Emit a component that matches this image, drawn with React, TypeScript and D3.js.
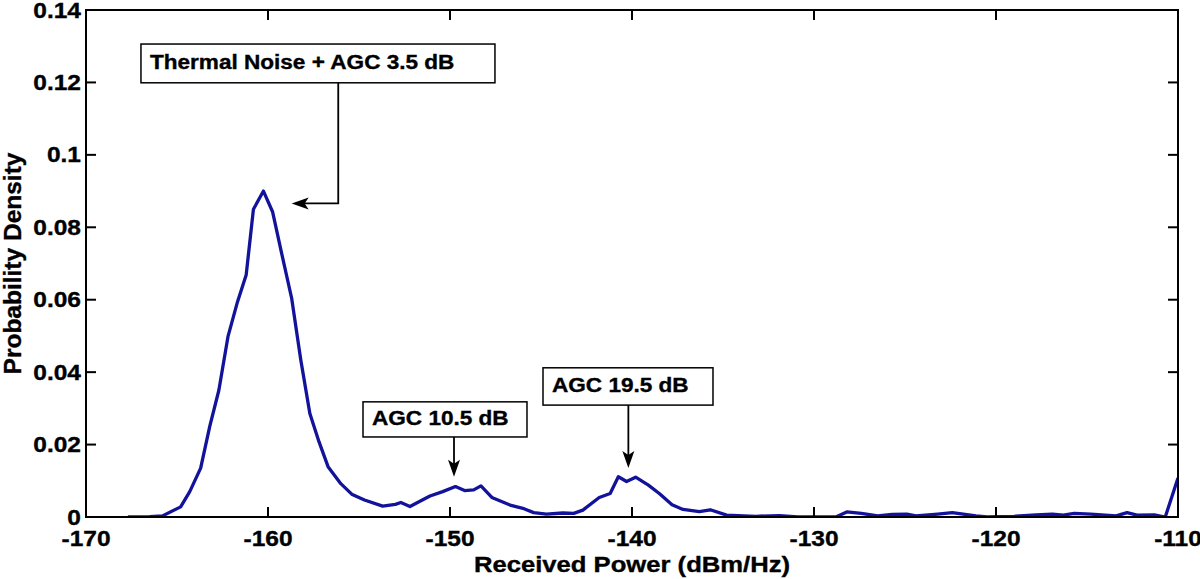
import * as d3 from 'd3';
import React, { useRef, useEffect } from 'react';

// received power (dBm/Hz) and estimated probability density
const powerDbm = [
  -167.7, -166.5, -165.8, -164.8, -164.3, -163.7, -163.2, -162.7, -162.2, -161.7,
  -161.2, -160.8, -160.25, -159.75, -159.25, -158.7, -158.2, -157.7, -157.2, -156.7,
  -156.0, -155.4, -154.7, -153.7, -153.0, -152.7, -152.2, -151.6, -151.1, -150.4,
  -149.7, -149.2, -148.7, -148.3, -147.7, -146.7, -146.0, -145.4, -144.7, -143.8,
  -143.2, -142.7, -141.8, -141.2, -140.75, -140.3, -139.8, -139.1, -138.5, -137.8,
  -137.2, -136.3, -135.7, -134.8, -133.2, -131.9, -130.9, -128.8, -128.2, -127.4,
  -126.5, -125.7, -124.9, -124.4, -123.2, -122.4, -121.1, -120.5, -119.0, -117.8,
  -116.9, -116.3, -115.7, -114.8, -113.4, -112.8, -112.25, -111.3, -110.7, -110.0
];
const density = [
  0, 0.0001, 0.0003, 0.0028, 0.007, 0.0135, 0.025, 0.035, 0.0498, 0.059,
  0.0668, 0.085, 0.09, 0.0843, 0.0728, 0.0604, 0.0434, 0.0286, 0.0208, 0.0139,
  0.0092, 0.0063, 0.0047, 0.003, 0.0035, 0.004, 0.0029, 0.0045, 0.0058, 0.007,
  0.0084, 0.0073, 0.0075, 0.0086, 0.0054, 0.0033, 0.0024, 0.0012, 0.0008, 0.0011,
  0.001, 0.0019, 0.0054, 0.0065, 0.0111, 0.0098, 0.011, 0.0088, 0.0065, 0.0034,
  0.0021, 0.0015, 0.002, 0.0005, 0.0002, 0.0004, 0, 0, 0.0014, 0.001,
  0.0003, 0.0007, 0.0008, 0.0003, 0.0008, 0.0012, 0.0003, 0, 0.0002, 0.0006,
  0.0008, 0.0005, 0.001, 0.0008, 0.0003, 0.0012, 0.0005, 0.0006, 0, 0.0108
];

const xTicks = [-170, -160, -150, -140, -130, -120, -110];
const yTicks = [0, 0.02, 0.04, 0.06, 0.08, 0.1, 0.12, 0.14];
const yTickLabels = ['0', '0.02', '0.04', '0.06', '0.08', '0.1', '0.12', '0.14'];

// text-box annotations (data coords)
const noteLabels = ['Thermal Noise + AGC 3.5 dB', 'AGC 10.5 dB', 'AGC 19.5 dB'];
const noteBoxX0 = [-166.98, -154.78, -144.89];
const noteBoxX1 = [-147.53, -145.77, -135.55];
const noteBoxYTop = [0.1306, 0.0318, 0.0412];
const noteBoxYBot = [0.1199, 0.0221, 0.0309];
const noteStemX = [-156.14, -149.78, -140.2];
const noteTipX = [-158.7, -149.78, -140.2];
const noteTipY = [0.0866, 0.0111, 0.0135];

function App() {
  const ref = useRef(null);
  const width = 1200;
  const height = 579;

  useEffect(() => {
    draw();
  }, []);

  const draw = () => {
    const margin = { left: 86, right: 22, top: 10, bottom: 62 };
    const font = "'Liberation Sans', Arial, Helvetica, sans-serif";
    const stretch = 1.14;
    const lineColor = '#12129a';

    const svg = d3.select(ref.current);
    svg.selectAll('*').remove();

    const x = d3.scaleLinear()
      .domain([-170, -110])
      .range([margin.left, width - margin.right]);
    const y = d3.scaleLinear()
      .domain([0, 0.14])
      .range([height - margin.bottom, margin.top]);

    const [x0, x1] = x.range();
    const [yb, yt] = y.range();

    svg.append('rect')
      .attr('width', width).attr('height', height).attr('fill', '#fff');

    svg.append('defs').append('clipPath').attr('id', 'plotclip')
      .append('rect')
      .attr('x', x0).attr('y', yt)
      .attr('width', x1 - x0).attr('height', yb - yt);

    // curve
    const pts = powerDbm.map((p, i) => [p, density[i]]);
    const line = d3.line().x(d => x(d[0])).y(d => y(d[1]));
    svg.append('path')
      .attr('clip-path', 'url(#plotclip)')
      .attr('d', line(pts))
      .attr('fill', 'none')
      .attr('stroke', lineColor)
      .attr('stroke-width', 3.3)
      .attr('stroke-linejoin', 'round');

    // box
    svg.append('rect')
      .attr('x', x0).attr('y', yt)
      .attr('width', x1 - x0).attr('height', yb - yt)
      .attr('fill', 'none').attr('stroke', '#000').attr('stroke-width', 2);

    const tickLen = 10;
    const ticks = svg.append('g').attr('stroke', '#000').attr('stroke-width', 2);
    xTicks.forEach(t => {
      ticks.append('line').attr('x1', x(t)).attr('x2', x(t)).attr('y1', yb).attr('y2', yb - tickLen);
      ticks.append('line').attr('x1', x(t)).attr('x2', x(t)).attr('y1', yt).attr('y2', yt + tickLen);
    });
    yTicks.forEach(t => {
      ticks.append('line').attr('x1', x0).attr('x2', x0 + tickLen).attr('y1', y(t)).attr('y2', y(t));
      ticks.append('line').attr('x1', x1).attr('x2', x1 - tickLen).attr('y1', y(t)).attr('y2', y(t));
    });

    const addText = (tx, ty, txt, size, anchor, sx = stretch) => {
      svg.append('text')
        .attr('transform', `translate(${tx},${ty}) scale(${sx},1)`)
        .attr('text-anchor', anchor)
        .attr('font-family', font)
        .attr('font-weight', 'bold')
        .attr('font-size', size)
        .attr('fill', '#000')
        .attr('stroke', '#000')
        .attr('stroke-width', 0.35)
        .text(txt);
    };

    xTicks.forEach(t => addText(x(t), yb + 29, String(t), 21.5, 'middle'));
    yTicks.forEach((t, i) => addText(x0 - 5, y(t) + 7.5, yTickLabels[i], 21.5, 'end'));

    addText((x0 + x1) / 2, height - 7, 'Received Power (dBm/Hz)', 22.5, 'middle');

    svg.append('text')
      .attr('transform', `translate(21,${(yt + yb) / 2}) rotate(-90)`)
      .attr('text-anchor', 'middle')
      .attr('font-family', font)
      .attr('font-weight', 'bold')
      .attr('font-size', 24.5)
      .attr('fill', '#000')
      .attr('stroke', '#000')
      .attr('stroke-width', 0.35)
      .text('Probability Density');

    // annotations
    noteLabels.forEach((lab, i) => {
      const bx0 = x(noteBoxX0[i]);
      const bx1 = x(noteBoxX1[i]);
      const by0 = y(noteBoxYTop[i]);
      const by1 = y(noteBoxYBot[i]);
      svg.append('rect')
        .attr('x', bx0).attr('y', by0)
        .attr('width', bx1 - bx0).attr('height', by1 - by0)
        .attr('fill', '#fff').attr('stroke', '#000').attr('stroke-width', 1.5);
      addText(bx0 + 9, (by0 + by1) / 2 + 5.5, lab, 19.8, 'start');

      const sx = x(noteStemX[i]);
      const tx = x(noteTipX[i]);
      const ty = y(noteTipY[i]);
      const g = svg.append('g').attr('stroke', '#000').attr('stroke-width', 1.8).attr('fill', 'none');
      if (Math.abs(sx - tx) < 1) {
        g.append('line').attr('x1', sx).attr('x2', sx).attr('y1', by1).attr('y2', ty - 4);
        svg.append('path')
          .attr('d', `M${tx},${ty} L${tx - 6},${ty - 17} L${tx},${ty - 13} L${tx + 6},${ty - 17} Z`)
          .attr('fill', '#000');
      } else {
        g.append('polyline')
          .attr('points', `${sx},${by1} ${sx},${ty} ${tx + 4},${ty}`);
        svg.append('path')
          .attr('d', `M${tx},${ty} L${tx + 17},${ty - 6} L${tx + 13},${ty} L${tx + 17},${ty + 6} Z`)
          .attr('fill', '#000');
      }
    });
  };

  return (
    <div className="chart">
      <svg ref={ref} width={width} height={height}
        style={{ position: 'absolute', left: 0, top: 0, display: 'block' }}>
      </svg>
    </div>
  );
}

export default App;
